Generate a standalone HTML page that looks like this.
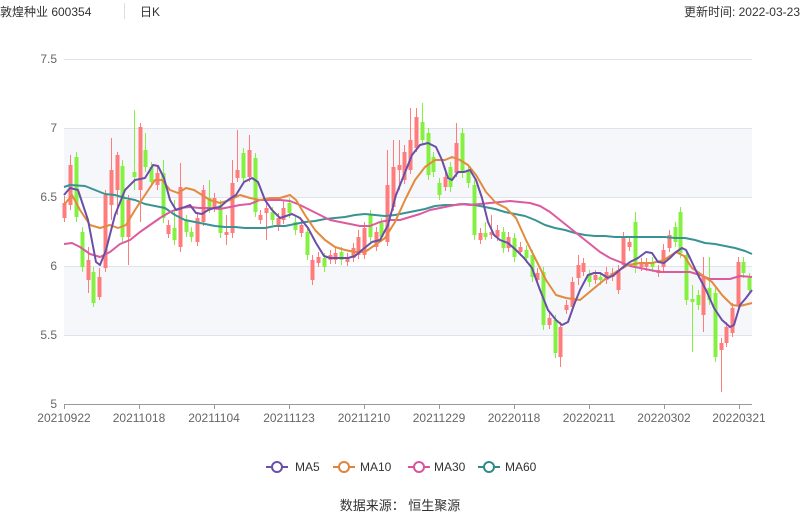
<!DOCTYPE html>
<html><head><meta charset="utf-8"><style>
body{margin:0;width:800px;height:517px;background:#fff;overflow:hidden;font-family:"Liberation Sans","Noto Sans CJK SC",sans-serif;}
svg{position:absolute;left:0;top:0}
</style></head><body>
<svg width="800" height="517" xmlns="http://www.w3.org/2000/svg" font-family="'Liberation Sans','Noto Sans CJK SC',sans-serif">
<rect x="64" y="128" width="688" height="69" fill="#f6f7fb"/>
<rect x="64" y="266" width="688" height="69" fill="#f6f7fb"/>
<g stroke="#dfe3ef" stroke-width="1">
<line x1="64" x2="752" y1="59.5" y2="59.5"/><line x1="64" x2="752" y1="128.5" y2="128.5"/><line x1="64" x2="752" y1="197.5" y2="197.5"/><line x1="64" x2="752" y1="266.5" y2="266.5"/><line x1="64" x2="752" y1="335.5" y2="335.5"/>
</g>
<line x1="64" x2="752" y1="404.5" y2="404.5" stroke="#999"/>
<g font-size="12" fill="#666" text-anchor="end">
<text x="57" y="63">7.5</text><text x="57" y="132">7</text><text x="57" y="201">6.5</text><text x="57" y="270">6</text><text x="57" y="339">5.5</text><text x="57" y="408">5</text>
</g>
<g stroke="#999"><path d="M64.5 404V409M139.5 404V409M214.5 404V409M289.5 404V409M364.5 404V409M439.5 404V409M514.5 404V409M589.5 404V409M664.5 404V409M739.5 404V409"/></g>
<g font-size="12" fill="#666" text-anchor="middle">
<text x="64" y="422">20210922</text><text x="139" y="422">20211018</text><text x="214" y="422">20211104</text><text x="289" y="422">20211123</text><text x="364" y="422">20211210</text><text x="439" y="422">20211229</text><text x="514" y="422">20220118</text><text x="589" y="422">20220211</text><text x="664" y="422">20220302</text><text x="739" y="422">20220321</text>
</g>
<!-- red candles -->
<g fill="#ff7c7c" stroke="#ff7c7c">
<path fill="none" stroke-width="1" d="M64.5 196V222M70.5 155V210M88.5 247V293M99.5 268V300M105.5 190V272M111.5 138V220M117.5 152V215M128.5 195V265M140.5 123V222M157.5 165V190M168.5 220V238M180.5 163V252M197.5 212V246M203.5 185V226M214.5 193V212M226.5 215V245M232.5 160V238M237.5 130V182M249.5 135V182M260.5 210V224M266.5 203V240M278.5 213V231M283.5 200V224M301.5 220V237M312.5 255V285M318.5 252V267M330.5 250V264M335.5 248V264M347.5 253V266M353.5 243V262M358.5 230V259M364.5 222V259M376.5 227V251M387.5 150V246M393.5 140V211M399.5 140V190M404.5 145V184M410.5 108V174M416.5 108V152M445.5 172V191M456.5 123V177M480.5 228V244M491.5 215V239M497.5 225V241M508.5 232V252M520.5 242V256M537.5 268V284M549.5 313V329M560.5 322V367M566.5 300V314M572.5 277V311M578.5 255V285M583.5 258V276M595.5 270V284M606.5 267V284M612.5 268V281M618.5 265V294M623.5 232V269M629.5 237V251M641.5 258V271M646.5 258V271M658.5 265V277M663.5 244V271M669.5 230V252M703.5 257V332M721.5 338V392M726.5 322V347M732.5 303V337M738.5 257V309"/>
<path stroke="none" d="M62.5 203h4v15h-4zM68.5 165h4v40h-4zM86.5 260h4v20h-4zM97.5 277h4v20h-4zM103.5 195h4v73h-4zM109.5 170h4v35h-4zM115.5 155h4v35h-4zM126.5 200h4v37h-4zM138.5 127h4v63h-4zM155.5 173h4v12h-4zM166.5 225h4v9h-4zM178.5 187h4v60h-4zM195.5 218h4v24h-4zM201.5 190h4v32h-4zM212.5 198h4v10h-4zM224.5 232h4v3h-4zM230.5 183h4v50h-4zM235.5 170h4v8h-4zM247.5 150h4v27h-4zM258.5 215h4v5h-4zM264.5 208h4v5h-4zM276.5 218h4v9h-4zM281.5 208h4v12h-4zM299.5 225h4v8h-4zM310.5 260h4v20h-4zM316.5 257h4v6h-4zM328.5 255h4v5h-4zM333.5 253h4v7h-4zM345.5 258h4v4h-4zM351.5 248h4v10h-4zM356.5 237h4v18h-4zM362.5 228h4v27h-4zM374.5 232h4v15h-4zM385.5 185h4v57h-4zM391.5 167h4v40h-4zM397.5 165h4v5h-4zM402.5 152h4v28h-4zM408.5 140h4v30h-4zM414.5 117h4v31h-4zM443.5 177h4v10h-4zM454.5 143h4v30h-4zM478.5 233h4v7h-4zM489.5 232h4v3h-4zM495.5 230h4v7h-4zM506.5 237h4v11h-4zM518.5 247h4v5h-4zM535.5 273h4v7h-4zM547.5 318h4v7h-4zM558.5 327h4v30h-4zM564.5 305h4v5h-4zM570.5 282h4v25h-4zM576.5 265h4v13h-4zM581.5 263h4v9h-4zM593.5 275h4v5h-4zM604.5 272h4v8h-4zM610.5 273h4v4h-4zM616.5 270h4v20h-4zM621.5 238h4v27h-4zM627.5 242h4v5h-4zM639.5 263h4v4h-4zM644.5 263h4v4h-4zM656.5 270h4v3h-4zM661.5 250h4v17h-4zM667.5 235h4v13h-4zM701.5 277h4v38h-4zM719.5 343h4v7h-4zM724.5 327h4v16h-4zM730.5 308h4v25h-4zM736.5 262h4v43h-4z"/>
</g>
<!-- green candles -->
<g fill="#84f040" stroke="#84f040">
<path fill="none" stroke-width="1" d="M76.5 152V222M82.5 227V272M93.5 267V307M122.5 160V242M134.5 110V190M145.5 133V172M151.5 162V187M163.5 160V223M174.5 200V245M186.5 215V237M191.5 227V242M209.5 180V213M220.5 200V238M243.5 148V183M255.5 153V217M272.5 207V225M289.5 198V218M295.5 217V235M307.5 227V260M324.5 253V272M341.5 247V265M370.5 210V242M381.5 218V242M422.5 103V145M428.5 128V180M433.5 152V177M439.5 178V200M450.5 162V192M462.5 128V178M468.5 167V188M474.5 180V240M485.5 222V240M503.5 227V253M514.5 233V262M526.5 245V263M532.5 250V282M543.5 267V330M555.5 315V358M589.5 270V287M600.5 272V285M635.5 212V273M652.5 257V272M675.5 222V247M680.5 207V258M686.5 250V305M692.5 285V352M698.5 290V310M709.5 257V305M715.5 288V362M743.5 257V278M749.5 273V295"/>
<path stroke="none" d="M74.5 157h4v60h-4zM80.5 232h4v35h-4zM91.5 272h4v31h-4zM120.5 166h4v71h-4zM132.5 172h4v5h-4zM143.5 150h4v17h-4zM149.5 167h4v15h-4zM161.5 173h4v45h-4zM172.5 228h4v12h-4zM184.5 220h4v12h-4zM189.5 232h4v5h-4zM207.5 198h4v10h-4zM218.5 205h4v28h-4zM241.5 153h4v25h-4zM253.5 158h4v54h-4zM270.5 212h4v8h-4zM287.5 203h4v10h-4zM293.5 222h4v8h-4zM305.5 232h4v23h-4zM322.5 258h4v9h-4zM339.5 252h4v8h-4zM368.5 215h4v22h-4zM379.5 223h4v14h-4zM420.5 122h4v18h-4zM426.5 133h4v42h-4zM431.5 157h4v15h-4zM437.5 183h4v12h-4zM448.5 167h4v20h-4zM460.5 133h4v40h-4zM466.5 172h4v11h-4zM472.5 185h4v50h-4zM483.5 233h4v4h-4zM501.5 232h4v16h-4zM512.5 238h4v19h-4zM524.5 250h4v8h-4zM530.5 255h4v22h-4zM541.5 272h4v53h-4zM553.5 320h4v33h-4zM587.5 275h4v7h-4zM598.5 277h4v3h-4zM633.5 222h4v46h-4zM650.5 262h4v5h-4zM673.5 227h4v15h-4zM678.5 212h4v41h-4zM684.5 255h4v45h-4zM690.5 299h4v3h-4zM696.5 295h4v10h-4zM707.5 288h4v12h-4zM713.5 293h4v64h-4zM741.5 262h4v11h-4zM747.5 278h4v12h-4z"/>
</g>
<g fill="none" stroke-width="2" stroke-linejoin="round">
<polyline stroke="#3a9393" points="64,187 70,185 85,186 95,190 105,194 115,195 125,198 135,200 145,204 155,206 165,208 175,215 185,220 195,222 205,224 215,226 225,227 235,227 245,228 255,228 265,228 275,226 285,226 295,224 305,222 315,221 325,219 335,218 345,217 355,215 365,214 375,215 385,216 395,215 405,213 415,211 425,209 435,206 445,205 455,205 465,204 475,205 485,207 495,209 505,212 515,214 525,216 535,220 545,225 555,228 565,230 575,233 585,235 595,236 605,236 615,237 625,237 635,237 645,237 655,237 665,237 675,238 685,238 695,240 705,243 715,244 725,246 735,248 745,251 752,254"/>
<polyline stroke="#dc5aa0" points="64,244 72,243 80,247 90,254 100,257 110,252 120,244 130,240 140,232 150,225 160,218 170,212 180,208 190,207 200,208 210,208 220,209 230,207 240,205 250,204 260,200 270,200 280,200 290,201 300,205 310,210 320,215 330,220 340,222 350,224 360,226 370,226 380,222 390,220 400,220 410,217 420,214 430,210 440,208 450,206 460,204 470,205 480,204 490,203 500,202 510,201 520,202 530,203 540,206 550,212 560,220 570,228 580,236 590,244 600,252 610,258 620,262 630,266 640,268 650,270 660,272 670,272 680,272 690,272 700,275 710,279 720,279 730,279 740,276 752,277"/>
<polyline stroke="#e38a3e" points="64,205 72,195 80,210 90,225 100,228 110,225 118,228 126,225 135,210 145,195 155,180 162,180 170,190 178,193 186,188 194,190 202,195 210,200 220,203 230,200 240,195 250,198 260,200 270,198 280,198 290,195 296,200 305,215 315,230 325,240 335,247 345,250 355,252 365,252 375,245 385,238 395,222 405,200 415,180 425,167 435,160 445,160 452,157 460,160 468,165 476,175 486,192 496,203 506,208 516,218 526,240 536,260 546,280 556,295 566,298 580,300 592,290 604,280 616,272 628,265 640,263 652,263 664,260 676,252 684,256 692,268 702,275 712,282 722,295 732,305 740,306 752,303"/>
<polyline stroke="#6a4fa8" points="64,195 70,188 78,190 88,220 96,262 100,265 106,250 115,215 125,190 135,180 145,178 153,165 158,166 164,178 170,200 176,210 182,208 190,205 196,213 202,214 208,210 214,208 220,207 228,200 236,195 244,182 252,178 258,182 265,200 272,210 280,218 286,216 292,214 300,218 308,228 316,243 324,256 330,258 340,258 348,258 355,256 362,250 372,242 380,240 388,225 396,195 404,175 412,155 420,145 428,143 436,147 442,160 448,178 452,180 458,172 464,172 470,170 476,180 482,198 488,222 494,235 500,240 508,243 516,250 524,258 532,268 540,290 548,310 556,320 562,325 568,322 574,305 580,290 588,275 594,273 600,273 608,278 614,275 622,268 630,262 638,258 646,252 652,253 658,262 664,263 670,258 676,252 682,248 686,250 690,258 698,275 706,290 714,308 722,320 730,327 734,325 740,305 746,298 752,290"/>
</g>
<g font-size="12" fill="#333">
<text x="0" y="16">敦煌种业 600354</text>
<line x1="124.5" x2="124.5" y1="3" y2="19" stroke="#ddd"/>
<text x="140" y="16">日K</text>
<text x="800" y="16" text-anchor="end">更新时间: 2022-03-23</text>
</g>
<g font-size="12" fill="#333">
<line x1="266" x2="288" y1="467" y2="467" stroke="#6a4fa8" stroke-width="2"/><circle cx="277" cy="467" r="5" fill="#fff" stroke="#6a4fa8" stroke-width="2"/><text x="295" y="471">MA5</text>
<line x1="333" x2="355" y1="467" y2="467" stroke="#e0833a" stroke-width="2"/><circle cx="344" cy="467" r="5" fill="#fff" stroke="#e0833a" stroke-width="2"/><text x="360" y="471">MA10</text>
<line x1="408" x2="430" y1="467" y2="467" stroke="#d9549c" stroke-width="2"/><circle cx="419" cy="467" r="5" fill="#fff" stroke="#d9549c" stroke-width="2"/><text x="434" y="471">MA30</text>
<line x1="478" x2="500" y1="467" y2="467" stroke="#2f8a8a" stroke-width="2"/><circle cx="489" cy="467" r="5" fill="#fff" stroke="#2f8a8a" stroke-width="2"/><text x="505" y="471">MA60</text>
</g>
<text x="400" y="510" font-size="13" fill="#333" text-anchor="middle">数据来源： 恒生聚源</text>
</svg>
</body></html>
